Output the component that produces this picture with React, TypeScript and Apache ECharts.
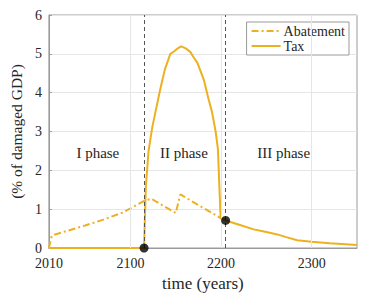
import React, { useEffect, useRef } from "react";
import * as echarts from "echarts";

const taxYears = [2010, 2115, 2117, 2120, 2124, 2128, 2133, 2138, 2144, 2148, 2152, 2156, 2161, 2166, 2170, 2174, 2181, 2186, 2190, 2194, 2196.5, 2199.5, 2205, 2220, 2236, 2250, 2262, 2272, 2284, 2300, 2320, 2350];
const taxValues = [0, 0, 1.6, 2.5, 3.1, 3.55, 4.1, 4.6, 5.0, 5.06, 5.14, 5.19, 5.14, 5.05, 4.9, 4.76, 4.33, 3.85, 3.5, 3.0, 2.55, 0.77, 0.71, 0.6, 0.48, 0.41, 0.35, 0.28, 0.2, 0.16, 0.12, 0.08];

const abatementYears = [2010, 2013, 2016, 2030, 2050, 2070, 2090, 2100, 2110, 2115, 2123, 2150, 2155, 2199.5, 2205];
const abatementValues = [0, 0.3, 0.34, 0.44, 0.58, 0.73, 0.9, 1.02, 1.15, 1.21, 1.27, 0.9, 1.38, 0.77, 0.71];

const phaseBoundaries = [2115, 2205];
const switchPoints: [number, number][] = [[2115, 0], [2205, 0.71]];
const phaseLabels = ["I phase", "II phase", "III phase"];
const phaseLabelYears = [2064, 2159, 2269];
const phaseLabelValue = 2.45;

const xTicks = [2010, 2100, 2200, 2300];
const xGrid = [2100, 2200, 2300];

const COLOR = "#EDB120";
const FONT = "'Liberation Serif', 'DejaVu Serif', serif";
const TEXT = "#262626";

export default function App() {
  const ref = useRef<HTMLDivElement>(null);
  useEffect(() => {
    document.body.style.margin = "0";
    const chart = echarts.init(ref.current!, null, { renderer: "svg" });
    chart.setOption({
      animation: false,
      textStyle: { fontFamily: FONT },
      grid: {
        left: 48, right: 12, top: 15, bottom: 49,
        show: true, borderColor: "#9a9a9a", borderWidth: 1, backgroundColor: "transparent",
      },
      legend: {
        right: 20, top: 22,
        orient: "vertical",
        backgroundColor: "#fff",
        borderColor: "#9a9a9a",
        borderWidth: 1,
        padding: [2, 4, 2, 4],
        itemGap: 1,
        itemWidth: 29,
        itemHeight: 12,
        itemStyle: { color: "transparent", borderColor: "transparent", borderWidth: 0 },
        textStyle: { fontFamily: FONT, fontSize: 14, color: TEXT, padding: [0, 0, 0, -2] },
        data: ["Abatement", "Tax"],
      },
      xAxis: {
        type: "value",
        min: 2010, max: 2350,
        name: "time (years)",
        nameLocation: "middle",
        nameGap: 24,
        nameTextStyle: { fontFamily: FONT, fontSize: 17, color: TEXT },
        axisLine: { lineStyle: { color: "#9a9a9a" } },
        axisTick: { show: true, inside: true, length: 3, customValues: xTicks, lineStyle: { color: "#9a9a9a" } },
        axisLabel: {
          customValues: xTicks, fontFamily: FONT, fontSize: 14, color: TEXT, margin: 8, lineHeight: 14,
          formatter: (v: number) => String(v),
        },
        splitLine: { show: false },
      },
      yAxis: {
        type: "value",
        min: 0, max: 6, interval: 1,
        name: "(% of damaged GDP)",
        nameLocation: "middle",
        nameGap: 21,
        nameTextStyle: { fontFamily: FONT, fontSize: 15.5, color: TEXT },
        axisLine: { show: true, lineStyle: { color: "#9a9a9a" } },
        axisTick: { show: true, inside: true, length: 3, lineStyle: { color: "#9a9a9a" } },
        axisLabel: { fontFamily: FONT, fontSize: 14, color: TEXT, margin: 7, lineHeight: 12 },
        splitLine: { show: true, lineStyle: { color: "#e6e6e6" } },
      },
      series: [
        {
          name: "grid",
          type: "line",
          data: [],
          silent: true,
          markLine: {
            silent: true,
            symbol: "none",
            label: { show: false },
            lineStyle: { color: "#e6e6e6", type: "solid", width: 1 },
            data: xGrid.map((x) => ({ xAxis: x })),
          },
          z: 1,
        },
        {
          name: "Abatement",
          type: "line",
          symbol: "none",
          data: abatementYears.map((y, i) => [y, abatementValues[i]]),
          lineStyle: { color: COLOR, width: 2, type: [7, 3, 2, 3] },
          itemStyle: { color: COLOR },
          z: 3,
        },
        {
          name: "Tax",
          type: "line",
          symbol: "none",
          data: taxYears.map((y, i) => [y, taxValues[i]]),
          lineStyle: { color: COLOR, width: 2 },
          itemStyle: { color: COLOR },
          z: 3,
          markLine: {
            silent: true,
            symbol: "none",
            label: { show: false },
            lineStyle: { color: "#555", type: [4, 3], width: 1 },
            data: phaseBoundaries.map((x) => ({ xAxis: x })),
          },
          markPoint: {
            silent: true,
            symbol: "circle",
            symbolSize: 0,
            label: { show: true, fontFamily: FONT, fontSize: 15, color: TEXT, position: "inside" },
            data: phaseLabels.map((t, i) => ({
              coord: [phaseLabelYears[i], phaseLabelValue],
              value: t,
              label: { formatter: t },
            })),
          },
        },
        {
          name: "switch",
          type: "scatter",
          symbolSize: 9,
          data: switchPoints,
          itemStyle: { color: "#000" },
          z: 5,
        },
      ],
    });
    return () => chart.dispose();
  }, []);
  return <div ref={ref} style={{ width: 369, height: 297 }} />;
}
